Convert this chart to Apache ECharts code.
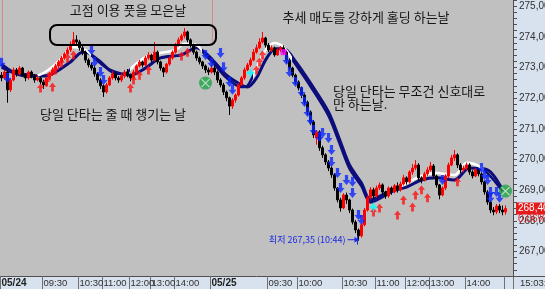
<!DOCTYPE html>
<html><head><meta charset="utf-8">
<script src="https://cdn.jsdelivr.net/npm/echarts@6/dist/echarts.min.js"></script>
<style>html,body{margin:0;padding:0;background:#d8e2ee}#c{width:545px;height:289px}</style>
</head><body><div id="c"></div><script>
// ---- data ----
const N_BARS = 171;
const tickIdx  = [0, 14, 26, 34, 43, 50, 58, 70, 89, 99, 114, 125, 135, 143, 155, 168];
const tickText = ['05/24','09:30','10:30','11:00','12:00','13:00','14:00','05/25','09:30','10:00','10:30','11:00','12:00','13:00','14:00',' '];
// [open, close, low, high]
const candles = [
[272.75,272.66,272.55,272.85],[272.66,272.85,272.60,272.92],[272.85,272.27,271.85,272.90],[272.27,272.59,272.20,272.65],
[272.59,272.92,272.55,273.00],[272.92,272.79,272.70,272.98],[272.79,272.98,272.75,273.05],[272.98,272.75,272.70,273.02],
[272.75,272.66,272.55,272.80],[272.66,272.85,272.60,272.90],[272.85,272.72,272.65,272.90],[272.72,272.59,272.50,272.78],
[272.59,272.66,272.55,272.75],[272.66,272.53,272.45,272.70],[272.53,272.43,272.30,272.60],[272.43,272.66,272.38,272.70],
[272.66,272.79,272.60,272.85],[272.79,272.92,272.72,273.00],[272.92,273.05,272.85,273.12],[273.05,273.18,272.98,273.25],
[273.18,273.31,273.10,273.38],[273.31,273.44,273.25,273.50],[273.44,273.57,273.38,273.65],[273.57,273.73,273.50,273.85],
[273.73,273.90,273.70,274.16],[273.90,273.83,273.75,274.05],[273.83,273.64,273.55,273.90],[273.64,273.50,273.40,273.70],
[273.50,273.24,273.15,273.55],[273.24,273.08,273.00,273.30],[273.08,272.98,272.90,273.15],[272.98,272.79,272.70,273.05],
[272.79,272.59,272.50,272.85],[272.59,272.40,272.30,272.65],[272.40,272.20,272.04,272.45],[272.20,272.43,272.15,272.50],
[272.43,272.66,272.40,272.72],[272.66,272.79,272.60,272.88],[272.79,272.66,272.58,272.85],[272.66,272.59,272.50,272.72],
[272.59,272.72,272.52,272.80],[272.72,272.85,272.65,272.92],[272.85,272.75,272.68,272.95],[272.75,272.66,272.55,272.80],
[272.66,272.85,272.60,272.92],[272.85,273.05,272.80,273.10],[273.05,273.18,273.00,273.25],[273.18,273.08,273.00,273.22],
[273.08,273.31,273.05,273.38],[273.31,273.41,273.25,273.50],[273.41,273.24,273.18,273.45],[273.24,273.50,273.20,273.83],
[273.50,273.18,273.10,273.55],[273.18,272.98,272.90,273.22],[272.98,272.85,272.69,273.02],[272.85,273.11,272.80,273.15],
[273.11,273.31,273.05,273.36],[273.31,273.50,273.25,273.56],[273.50,273.73,273.45,273.80],[273.73,273.90,273.68,273.98],
[273.90,274.03,273.85,274.10],[274.03,274.16,273.95,274.29],[274.16,273.90,273.82,274.20],[273.90,273.73,273.65,273.95],
[273.73,273.50,273.42,273.78],[273.50,273.31,273.22,273.55],[273.31,273.18,273.10,273.36],[273.18,273.05,272.95,273.22],
[273.05,272.92,272.82,273.10],[272.92,272.85,272.75,273.00],
[272.85,272.98,272.80,273.10],[272.98,272.85,272.75,273.05],[272.85,272.59,272.50,272.90],[272.59,272.43,272.35,272.65],
[272.43,272.20,272.10,272.50],[272.20,272.01,271.90,272.25],[272.01,271.74,271.45,272.05],[271.74,271.94,271.65,272.00],
[271.94,272.10,271.85,272.15],[272.10,272.43,272.05,272.50],[272.43,272.66,272.40,272.72],[272.66,272.92,272.60,273.00],
[272.92,273.08,272.88,273.15],[273.08,273.24,273.02,273.32],[273.24,273.50,273.20,273.60],[273.50,273.64,273.45,273.75],
[273.64,273.83,273.60,273.95],[273.83,273.96,273.78,274.16],[273.96,273.73,273.65,274.00],[273.73,273.57,273.50,273.80],
[273.57,273.64,273.50,273.72],[273.64,273.41,273.35,273.68],[273.41,273.57,273.38,273.62],[273.57,273.64,273.50,273.70],
[273.64,273.50,273.42,273.72],[273.50,273.24,273.15,273.55],[273.24,272.98,272.90,273.30],[272.98,272.75,272.68,273.02],
[272.75,272.53,272.45,272.80],[272.53,272.33,272.25,272.58],[272.33,272.10,272.00,272.38],[272.10,271.87,271.78,272.15],
[271.87,271.55,271.45,271.92],[271.55,271.22,271.12,271.60],[271.22,270.80,270.70,271.28],[270.70,270.90,270.48,270.95],
[270.90,270.38,270.28,270.95],[270.38,270.15,270.05,270.45],[270.15,269.92,269.82,270.20],[269.92,269.72,269.62,269.98],
[269.72,269.50,269.40,269.78],[269.50,269.07,268.98,269.55],[269.07,268.68,268.60,269.10],[268.68,268.42,268.30,268.75],
[268.42,268.84,268.38,268.90],[268.84,268.68,268.55,268.92],[268.68,268.35,268.25,268.72],[268.35,267.96,267.88,268.40],
[267.96,267.70,267.60,268.02],[267.70,267.51,267.35,267.75],[267.51,267.87,267.45,267.92],[267.87,268.35,267.82,268.42],
[268.35,268.75,268.30,268.82],[268.75,269.01,268.70,269.10],[269.01,268.81,268.72,269.08],[268.81,269.07,268.75,269.15],
[269.07,269.17,269.00,269.25],[269.17,268.94,268.85,269.22],[268.94,268.81,268.72,268.98],[268.81,269.07,268.75,269.12],
[269.07,268.94,268.85,269.12],[268.94,269.14,268.90,269.20],[269.14,269.01,268.92,269.25],[269.01,269.20,268.95,269.28],
[269.20,269.40,269.15,269.50],[269.40,269.27,269.18,269.45],[269.27,269.59,269.22,269.65],[269.59,269.72,269.50,269.85],
[269.72,269.82,269.65,269.98],[269.82,269.40,269.30,269.88],[269.40,269.33,269.22,269.45],[269.33,269.53,269.28,269.60],
[269.53,269.66,269.45,269.75],[269.66,269.79,269.60,269.92],[269.79,269.46,269.38,269.85],[269.46,269.17,269.08,269.50],
[269.17,268.84,268.70,269.20],[268.84,269.07,268.80,269.12],[269.07,269.46,269.00,269.52],[269.46,269.82,269.40,269.90],
[269.82,270.05,269.78,270.15],[270.05,270.15,269.95,270.31],[270.15,269.82,269.72,270.20],[269.82,269.66,269.55,269.88],
[269.66,269.72,269.58,269.80],[269.72,269.82,269.65,269.90],[269.82,269.59,269.50,269.88],[269.59,269.46,269.38,269.65],
[269.46,269.66,269.42,269.72],[269.66,269.53,269.45,269.72],[269.53,269.27,269.18,269.58],[269.27,268.94,268.85,269.30],
[268.94,268.61,268.52,269.00],[268.61,268.35,268.25,268.65],[268.35,268.29,268.18,268.45],[268.29,268.48,268.22,268.55],
[268.48,268.35,268.25,268.55],[268.35,268.29,268.18,268.50],[268.29,268.40,268.20,268.50]
];
// slow ribbon line (navy) and fast ribbon line: [barIndex, price]
const slowLine = [[0,273.11],[4,272.85],[10,272.75],[14,272.72],[18,272.85],[23,273.18],[27,273.50],[29,273.47],[33,273.18],[36,272.92],[40,272.79],[43,272.75],[48,272.98],[53,273.31],[60,273.41],[65,273.64],[68,273.47],[71,273.18],[75,272.75],[80,272.43],[82,272.36],[85,272.66],[88,273.24],[91,273.60],[94,273.62],[98,273.20],[103,272.49],[109,271.55],[113,270.57],[116,269.82],[120,269.23],[123,268.68],[129,268.94],[135,269.10],[140,269.33],[145,269.40],[151,269.33],[156,269.72],[162,269.66],[167,269.01]];
const fastLine = [[0,273.00],[5,272.78],[10,272.70],[14,272.82],[18,273.11],[21,273.41],[24,273.67],[28,273.57],[31,273.30],[35,272.98],[38,272.80],[41,272.79],[44,273.05],[48,273.34],[53,273.47],[58,273.57],[61,273.77],[65,273.73],[68,273.40],[71,273.10],[75,272.66],[80,272.36],[82,272.40],[85,272.98],[88,273.57],[91,273.80],[94,273.67],[98,273.10],[103,272.38],[109,271.42],[113,270.44],[116,269.70],[120,269.12],[123,268.60],[129,268.88],[135,269.23],[140,269.46],[145,269.56],[151,269.49],[155,269.89],[159,269.79],[163,269.45],[167,268.96]];
const sellSignals = [[0,273.15],[2,272.66],[30,273.57],[31,273.18],[33,272.85],[34,272.59],[68,273.41],[70,273.15],[73,273.47],[74,273.01],[76,272.53],[77,272.27],[95,273.24],[96,272.85],[98,272.53],[100,272.20],[101,271.87],[102,271.55],[103,271.29],[104,270.96],[106,270.73],[107,270.86],[109,270.70],[110,270.31],[110,269.92],[112,269.56],[113,269.07],[115,269.33],[117,269.27],[117,268.91],[119,268.19],[120,268.03],[147,269.33],[160,269.72],[161,269.49],[162,269.33],[163,268.94],[165,268.94],[163,268.75],[166,268.75]];
const buySignals = [[13,272.33],[15,272.53],[16,272.72],[17,272.36],[18,272.92],[20,273.15],[22,273.31],[24,273.41],[43,272.33],[44,272.59],[46,272.75],[49,272.92],[60,273.37],[62,273.50],[85,272.92],[86,273.18],[87,273.41],[124,268.29],[126,268.42],[132,268.19],[134,268.68],[137,268.45],[138,268.84],[140,269.01],[142,268.75],[152,269.27]];
const exitMarks = [[68,272.49],[168,268.97]];
const starMarks = [[83,272.82],[124,268.45]];
const squareMarks = [[94,273.50]];
const lowInfo = {bar: 119, price: 267.35, text: '최저 267,35 (10:44)'};
const lastInfo = {bar: 168, price: 268.40, text: '268,40', pct: '0,06%'};

// ---- chart ----
const categories = Array.from({length: N_BARS}, (_, i) => {
  const k = tickIdx.indexOf(i); return k >= 0 ? tickText[k] : '';
});
const showTick = (i, v) => v !== '';
const NAVY = '#0c0c7a';
const KR = '"Noto Sans CJK KR", sans-serif';

const chart = echarts.init(document.getElementById('c'), null, {renderer: 'canvas'});
chart.setOption({
  animation: false,
  backgroundColor: '#d8e2ee',
  grid: {left: 0, right: 32, top: 0, bottom: 13, show: true, backgroundColor: '#c0c0c0', borderWidth: 0, containLabel: false, outerBoundsMode: 'none'},
  xAxis: {
    type: 'category', data: categories, boundaryGap: true,
    axisLine: {lineStyle: {color: '#505050', width: 1}},
    axisTick: {show: true, interval: showTick, length: 13, lineStyle: {color: '#707070'}},
    axisLabel: {interval: showTick, align: 'left', margin: 2, fontSize: 9.5, color: '#303030', fontFamily: 'Liberation Sans',
      formatter: v => v.indexOf('/') > 0 ? '{b|' + v + '}' : v,
      rich: {b: {fontWeight: 'bold', fontSize: 10, color: '#202020', fontFamily: 'Liberation Sans'}}},
    splitLine: {show: false}
  },
  yAxis: {
    type: 'value', position: 'right', min: 266.2, max: 275.2, interval: 0.2,
    axisLine: {show: true, lineStyle: {color: '#505050'}},
    axisTick: {show: true, length: 4, lineStyle: {color: '#505050'}},
    axisLabel: {margin: 6, fontSize: 10, color: '#303030', fontFamily: 'Liberation Sans',
      formatter: v => Math.abs(v - Math.round(v)) < 0.01 ? Math.round(v) + ',00' : ''},
    splitLine: {show: false}
  },
  visualMap: {
    type: 'piecewise', show: false, seriesIndex: 1, dimension: 0,
    pieces: [
      {gte: -1, lt: 12, color: NAVY}, {gte: 12, lt: 30, color: '#ffffff'},
      {gte: 30, lt: 43, color: NAVY}, {gte: 43, lt: 67, color: '#ffffff'},
      {gte: 67, lt: 84, color: NAVY}, {gte: 84, lt: 97, color: '#ffffff'},
      {gte: 97, lt: 132, color: NAVY}, {gte: 132, lt: 161, color: '#ffffff'},
      {gte: 161, lt: 200, color: NAVY}
    ]
  },
  series: [
    {type: 'line', data: slowLine, smooth: 0.3, symbol: 'none', lineStyle: {color: NAVY, width: 3}, z: 2},
    {type: 'line', data: fastLine, smooth: 0.3, symbol: 'none', lineStyle: {width: 2.5}, z: 2},
    {type: 'candlestick', data: candles, barWidth: 1.6, z: 3,
      itemStyle: {color: '#ff0000', color0: '#000000', borderColor: '#ff0000', borderColor0: '#000000', borderWidth: 1}},
    {type: 'scatter', data: buySignals, symbol: 'path://M5,0L10,5L7,5L7,10L3,10L3,5L0,5Z', symbolSize: [7, 9], itemStyle: {color: '#ff1010'}, z: 4},
    {type: 'scatter', data: sellSignals, symbol: 'path://M3,0L7,0L7,5L10,5L5,10L0,5L3,5Z', symbolSize: [8, 10], itemStyle: {color: '#0a24ff'}, z: 4},
    {type: 'scatter', data: exitMarks, symbol: 'circle', symbolSize: 13, itemStyle: {color: '#20a048'}, z: 5},
    {type: 'scatter', data: exitMarks, symbol: 'path://M0,0L10,10M10,0L0,10', symbolSize: 8, itemStyle: {color: 'transparent', borderColor: '#d8f0d8', borderWidth: 1.2}, z: 6},
    {type: 'scatter', data: starMarks, symbol: 'path://M5,0L6.5,3.5L10,5L6.5,6.5L5,10L3.5,6.5L0,5L3.5,3.5Z', symbolSize: 10, itemStyle: {color: '#00ffff'}, z: 5},
    {type: 'scatter', data: squareMarks, symbol: 'rect', symbolSize: 6, itemStyle: {color: '#ff00ff'}, z: 5}
  ]
});

const low = chart.convertToPixel({xAxisIndex: 0, yAxisIndex: 0}, [lowInfo.bar, lowInfo.price]);
const last = chart.convertToPixel({xAxisIndex: 0, yAxisIndex: 0}, [lastInfo.bar, lastInfo.price]);
const note = (x, y, s, align) => ({type: 'text', x: x, y: y, z: 100,
  style: {text: s, font: '13px ' + KR, fill: '#161616', textAlign: align, textVerticalAlign: 'middle'}});
chart.setOption({graphic: [
  {type: 'line', z: 50, shape: {x1: 2.5, y1: 0, x2: 2.5, y2: 57}, style: {stroke: '#d48a8a', lineWidth: 1}},
  {type: 'line', z: 50, shape: {x1: 212.5, y1: 0, x2: 212.5, y2: 45}, style: {stroke: '#d48a8a', lineWidth: 1}},
  {type: 'rect', z: 60, shape: {x: 50, y: 25, width: 166, height: 20, r: 7}, style: {fill: null, stroke: '#000', lineWidth: 2}},
  note(128, 10, '고점 이용 풋을 모은날', 'center'),
  note(366, 17, '추세 매도를 강하게 홀딩 하는날', 'center'),
  note(113, 114, '당일 단타는 줄 때 챙기는 날', 'center'),
  note(333, 91, '당일 단타는 무조건 신호대로', 'left'),
  note(333, 104, '만 하는날.', 'left'),
  {type: 'text', z: 100, x: low[0] - 13, y: low[1] - 1, style: {text: lowInfo.text, font: '9px ' + KR, fill: '#1a2ae0', textAlign: 'right', textVerticalAlign: 'middle'}},
  {type: 'line', z: 100, shape: {x1: low[0] - 11, y1: low[1] - 1, x2: low[0], y2: low[1] - 1}, style: {stroke: '#1a2ae0', lineWidth: 1}},
  {type: 'polygon', z: 100, shape: {points: [[low[0] - 4, low[1] - 4], [low[0], low[1] - 1], [low[0] - 4, low[1] + 2]]}, style: {fill: '#1a2ae0'}},
  {type: 'line', z: 100, shape: {x1: low[0] - 1, y1: low[1] - 5, x2: low[0] - 1, y2: low[1] + 4}, style: {stroke: '#1a2ae0', lineWidth: 1}},
  {type: 'rect', z: 100, shape: {x: 516, y: last[1] - 6, width: 30, height: 12}, style: {fill: '#e41b1b'}},
  {type: 'text', z: 101, x: 518, y: last[1], style: {text: lastInfo.text, font: '10px Liberation Sans', fill: '#ffffff', textAlign: 'left', textVerticalAlign: 'middle'}},
  {type: 'text', z: 101, x: 518, y: last[1] + 11, style: {text: lastInfo.pct, font: '10px Liberation Sans', fill: '#e41b1b', textAlign: 'left', textVerticalAlign: 'middle'}},
  {type: 'line', z: 50, shape: {x1: 513, y1: 276.5, x2: 545, y2: 276.5}, style: {stroke: '#505050', lineWidth: 1}},
  {type: 'text', z: 101, x: 520, y: 283, style: {text: '15:03:3', font: '9.5px Liberation Sans', fill: '#303030', textAlign: 'left', textVerticalAlign: 'middle'}}
]});
</script></body></html>
